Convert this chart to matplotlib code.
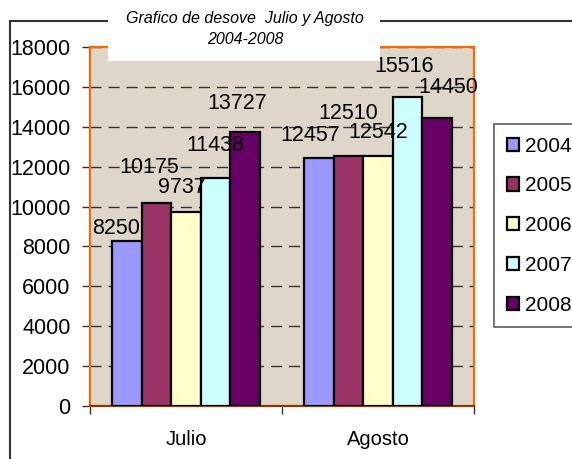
import matplotlib

matplotlib.use("Agg")
import matplotlib.pyplot as plt
from matplotlib.patches import Rectangle
import numpy as np

months = ["Julio", "Agosto"]
years = ["2004", "2005", "2006", "2007", "2008"]
values = {
    "2004": [8250, 12457],
    "2005": [10175, 12510],
    "2006": [9737, 12542],
    "2007": [11438, 15516],
    "2008": [13727, 14450],
}
colors = ["#9999FF", "#993366", "#FFFFCC", "#CCFFFF", "#660066"]
# label nudges in pixels (dx, dy) to mimic the overlapping Excel labels
label_offsets = {
    "2004": [(-11, 2), (-9, 12)],
    "2005": [(-7, 25), (0, 32)],
    "2006": [(-4, 14), (0, 13)],
    "2007": [(0, 22), (-3, 20)],
    "2008": [(-8, 18), (11, 20)],
}

plt.rcParams["font.family"] = ["Liberation Sans", "DejaVu Sans"]

fig = plt.figure(figsize=(5.72, 4.59), dpi=100)
ax = fig.add_axes([90 / 572, 53 / 459, 384 / 572, 359 / 459])
ax.set_facecolor("#DED6C9")

x = np.arange(len(months))
w = 0.154
for i, yr in enumerate(years):
    pos = x + (i - 2) * w
    ax.bar(pos, values[yr], w, color=colors[i], edgecolor="black", lw=1.6,
           label=yr, zorder=3)
    for j, v in enumerate(values[yr]):
        dx, dy = label_offsets[yr][j]
        ax.annotate(str(v), (pos[j], v), xytext=(dx * 0.72, dy * 0.72),
                    textcoords="offset points", ha="center", va="bottom",
                    fontsize=15.5, zorder=5)

ax.set_xlim(-0.5, 1.5)
ax.set_ylim(0, 18000)
ax.set_yticks(range(0, 18001, 2000))
ax.tick_params(axis="y", labelsize=15.5, length=6, width=1, color="#333333", pad=8)
ax.set_xticks(x)
ax.set_xticklabels(months, fontsize=14.5)
ax.tick_params(axis="x", which="major", length=0, pad=17)
ax.set_xticks([-0.5, 0.5, 1.5], minor=True)
ax.tick_params(axis="x", which="minor", length=6, width=1, color="#333333")

ax.yaxis.grid(True, ls=(0, (8, 5)), color="#333333", lw=1, zorder=1)
for s in ["left", "top", "right"]:
    ax.spines[s].set_color("#FF6600")
    ax.spines[s].set_linewidth(1.6)
ax.spines["bottom"].set_color("#993300")
ax.spines["bottom"].set_linewidth(1.6)

# outer chart frame and white title box
fig.patches.append(Rectangle((10 / 572, -0.05), 1.2, (459 - 21) / 459 + 0.05,
                             transform=fig.transFigure, fill=False,
                             ec="#333333", lw=1.5, zorder=0))
fig.patches.append(Rectangle((108 / 572, (459 - 61) / 459), 272 / 572, 50 / 459,
                             transform=fig.transFigure, fc="white", ec="none",
                             zorder=10))
fig.text(245 / 572, (459 - 29) / 459, "Grafico de desove  Julio y Agosto\n2004-2008",
         ha="center", va="center", style="italic", fontsize=11.5, linespacing=1.55,
         zorder=11)

leg = fig.legend(loc="upper left", bbox_to_anchor=(494 / 572, (459 - 124) / 459),
                 fontsize=15, frameon=True, fancybox=False, edgecolor="#333333",
                 handlelength=0.6, handleheight=0.6, handletextpad=0.3,
                 labelspacing=1.0, borderpad=0.6, borderaxespad=0)
leg.get_frame().set_linewidth(1.2)

fig.savefig("out.png", dpi=100)
